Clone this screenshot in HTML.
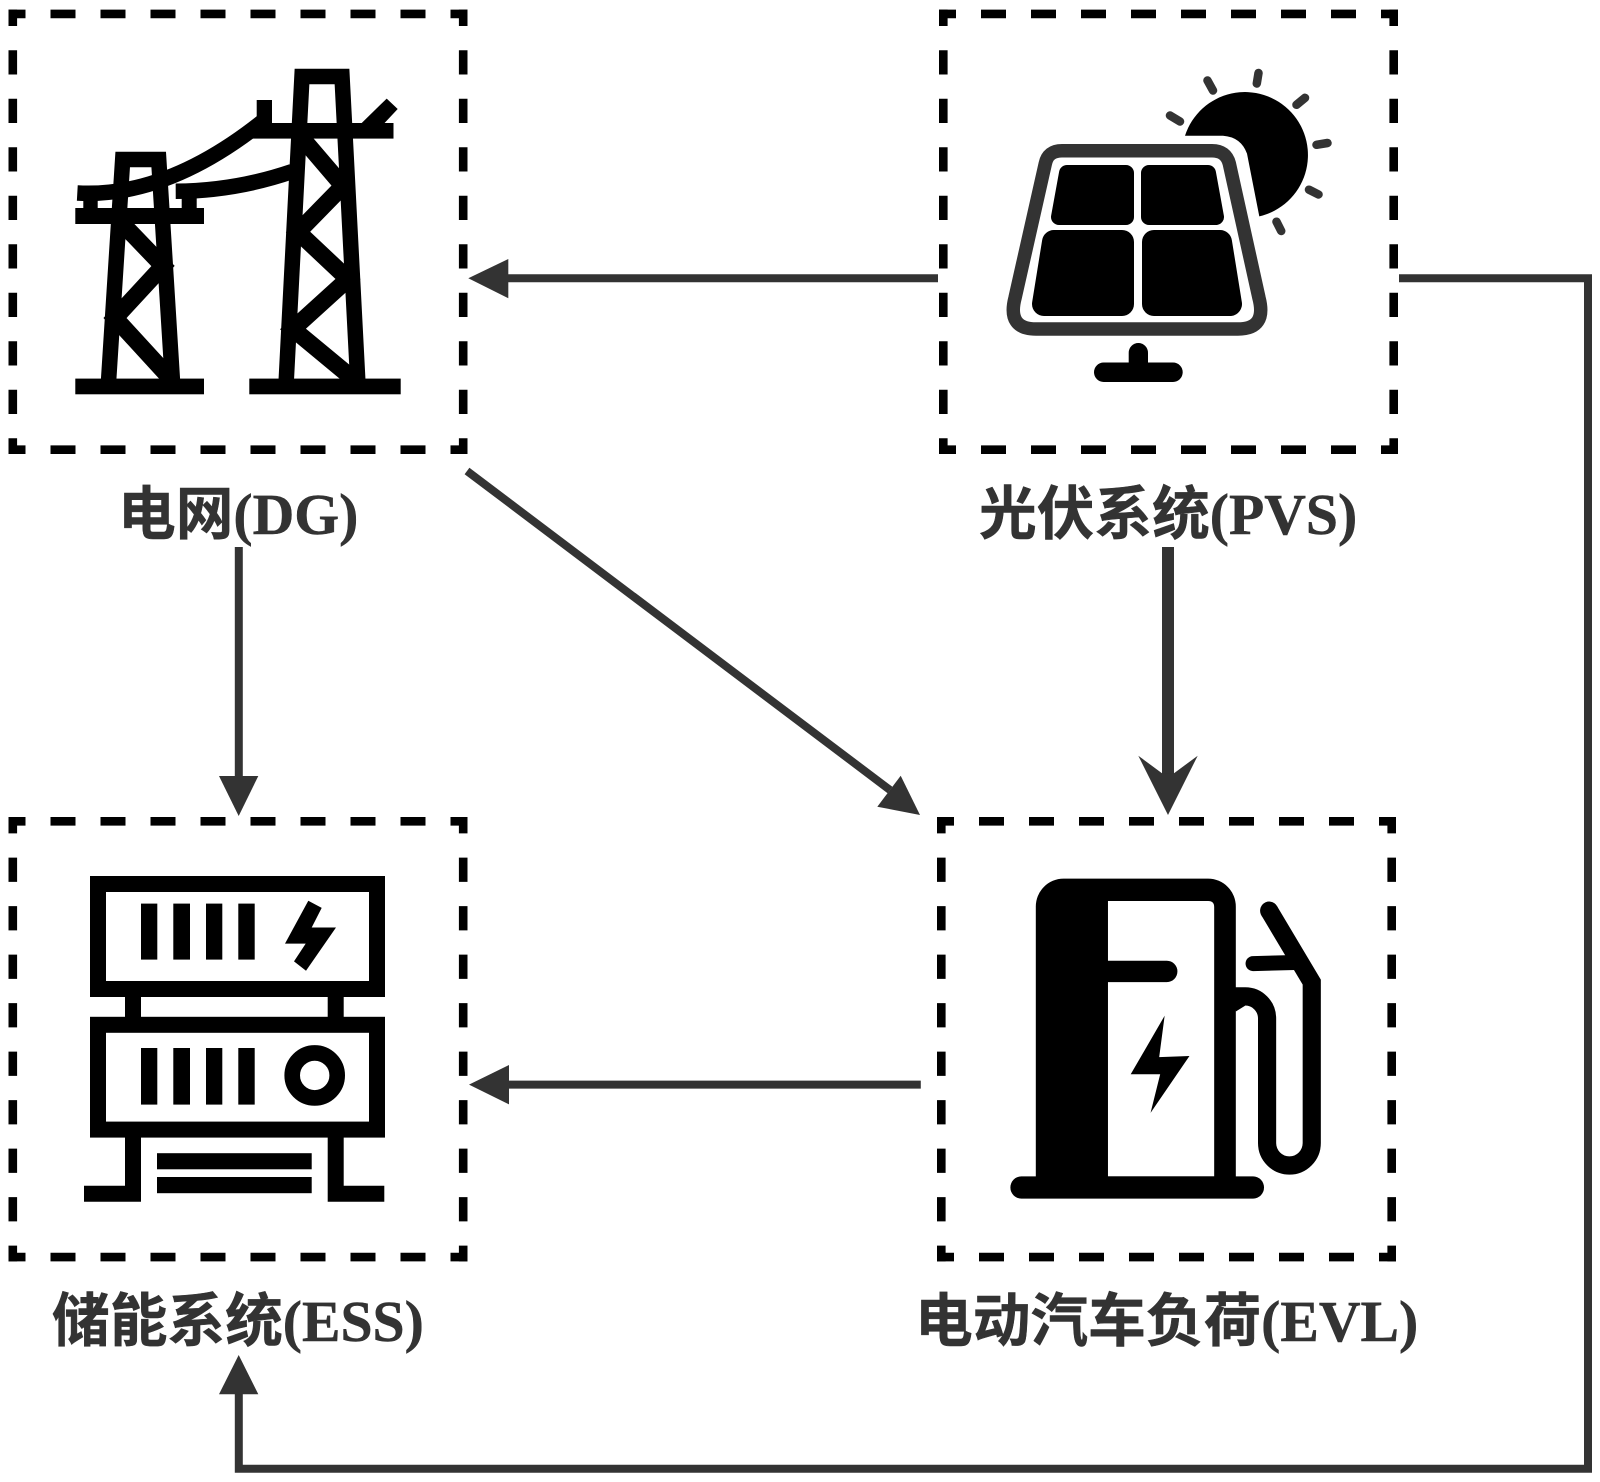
<!DOCTYPE html>
<html><head><meta charset="utf-8"><style>
html,body{margin:0;padding:0;background:#fff}
svg{display:block}
text{font-family:"Liberation Serif","Noto Sans CJK SC",serif;font-weight:700;font-size:57.7px;fill:#333;stroke:#333;stroke-width:.5px}
</style></head><body>
<svg width="1600" height="1482" viewBox="0 0 1600 1482" xmlns="http://www.w3.org/2000/svg">
<defs>
<g id="box" fill="none" stroke="#000" stroke-width="8.6">
<path d="M0,4.3H459" stroke-dasharray="25 25" stroke-dashoffset="8"/>
<path d="M0,440.1H459" stroke-dasharray="25 25" stroke-dashoffset="8"/>
<path d="M4.3,0V444.4" stroke-dasharray="24.25 24.25" stroke-dashoffset="7.85"/>
<path d="M454.7,0V444.4" stroke-dasharray="24.25 24.25" stroke-dashoffset="7.85"/>
</g>
</defs>
<rect width="1600" height="1482" fill="#fff"/>
<use href="#box" x="8.5" y="9.6"/>
<use href="#box" x="939" y="9.6"/>
<use href="#box" x="8.5" y="817"/>
<use href="#box" x="937" y="817"/>

<!-- tower icon -->
<g fill="#000">
<rect x="75.3" y="378.6" width="128.7" height="15.7"/>
<rect x="249.3" y="378.6" width="151.4" height="15.7"/>
<rect x="75.3" y="208" width="128.7" height="16"/>
<rect x="251" y="123" width="142.5" height="15.6"/>
<rect x="256.7" y="100" width="15.3" height="28"/>
<rect x="83.3" y="198" width="14.4" height="12"/>
<rect x="181.7" y="198" width="15" height="12"/>
<path d="M361.7,123L386.7,98.6 397.7,109 382.7,125Z"/>
</g>
<g fill="none" stroke="#000" stroke-width="15.5">
<path d="M77.3,193Q166,198 262,122"/>
<path d="M175.7,191.3Q235,191 292,171.6"/>
</g>
<g fill="none" stroke="#000" stroke-width="17">
<path d="M108.3,385L122.7,159.5H158.7L172.7,385" stroke-width="15.5"/>
<path d="M121.7,223L163,266 115,318 170,378"/>
<path d="M286,385L302,76.5H342L358,385" stroke-width="15.5"/>
<path d="M302,138L343,186 298,232 348,279 293,329 357,382"/>
</g>

<!-- solar icon -->
<path d="M1185,135.7H1223Q1241,137 1247,153.6L1259.3,216.4A63,63 0 1 0 1185,135.7Z" fill="#000"/>
<g stroke="#333" stroke-width="8.5" stroke-linecap="round" fill="none">
<path d="M1170,115.5L1180,121.5M1207.5,80.5L1213,90.5M1258.5,73L1256.8,83.5M1305,97.8L1296.5,104.8M1327.5,143L1316.5,144.8M1309,189.7L1318.5,194.5M1276.5,221.7L1281.2,231"/>
</g>
<path d="M1062,150.7H1212Q1226,150.7 1229.3,163.6L1259,298Q1267,329 1238,329H1036Q1007,329 1015,298L1045.3,163.6Q1048,150.7 1062,150.7Z" fill="#fff" stroke="#333" stroke-width="13.5"/>
<g fill="#000" stroke="#000" stroke-linejoin="round">
<polygon points="1067,173 1126,173 1126,217 1059,217" stroke-width="16"/>
<polygon points="1149,173 1208,173 1216,217 1149,217" stroke-width="16"/>
<polygon points="1054,242 1122,242 1122,304 1044,304" stroke-width="24"/>
<polygon points="1154,242 1220,242 1230,304 1154,304" stroke-width="24"/>
</g>
<rect x="1094" y="362.5" width="88.7" height="19.5" rx="9.7" fill="#000"/>
<path d="M1128.7,365V352.7A9.65,9.65 0 0 1 1148,352.7V365Z" fill="#000"/>

<!-- storage icon -->
<g fill="none" stroke="#000" stroke-width="16">
<rect x="98" y="884" width="279" height="105"/>
<rect x="98" y="1024.8" width="279" height="104.8"/>
</g>
<g fill="#000">
<rect x="125" y="995" width="16" height="24"/>
<rect x="327.7" y="995" width="16" height="24"/>
<rect x="141" y="903.6" width="16.3" height="56"/>
<rect x="173.3" y="903.6" width="16.7" height="56"/>
<rect x="206" y="903.6" width="16.3" height="56"/>
<rect x="238.3" y="903.6" width="16.4" height="56"/>
<rect x="141" y="1048" width="16.3" height="56.6"/>
<rect x="173.3" y="1048" width="16.7" height="56.6"/>
<rect x="206" y="1048" width="16.3" height="56.6"/>
<rect x="238.3" y="1048" width="16.4" height="56.6"/>
<polygon points="308.3,900.7 321.7,907.9 311.7,927.5 336,927.5 306,970.7 294,961.4 305.7,943.6 285,943.6"/>
<path d="M125,1136H141V1201.8H84V1185.7H125Z"/>
<path d="M327.7,1136H343.7V1185.7H384.3V1201.8H327.7Z"/>
<rect x="157" y="1153.2" width="154.7" height="16.1"/>
<rect x="157" y="1177" width="154.7" height="16.2"/>
</g>
<circle cx="314.7" cy="1075.4" r="22.5" fill="none" stroke="#000" stroke-width="15.6"/>

<!-- charger icon -->
<g transform="translate(1010,0) scale(0.9926,1) translate(-1010,0)">
<g fill="#000">
<rect x="1010.4" y="1176.4" width="255.5" height="22.2" rx="11"/>
<path fill-rule="evenodd" d="M1036,1180V907A28,28 0 0 1 1064,878.6H1209.5A28,28 0 0 1 1237.5,907V1180ZM1108.7,901V960.7H1168A10.7,10.7 0 0 1 1168,982.1H1108.7V1176.4H1215.7V907Q1215.7,901 1209.7,901Z"/>
<polygon points="1165.8,1015.7 1160.3,1057.1 1190.8,1056 1151.6,1112.9 1161.3,1074.3 1131.6,1074.3"/>
<circle cx="1271.1" cy="910.7" r="9.15"/>
<polygon points="1236,1003 1248,1005 1237.5,1011.5"/>
</g>
<g fill="none" stroke="#000" stroke-width="18.3">
<path d="M1236,996.4H1247A22,22 0 0 1 1269,1018.4V1143A22.5,22.5 0 0 0 1314,1143V982.1L1271.1,910.7"/>
<path d="M1254.8,963.6L1297,962.5" stroke-width="15" stroke-linecap="round"/>
</g>
</g>

<!-- connectors -->
<g fill="none" stroke="#333" stroke-width="8">
<path d="M938,278.3H500"/>
<path d="M1399,278.3H1588V1468.7H238.8V1385"/>
<path d="M238.8,547V785"/>
<path d="M467,471L890,790" />
<path d="M920.8,1084.6H500"/>
<path d="M1168,547V780" stroke-width="12"/>
</g>
<g fill="#333">
<polygon points="468.3,278.3 508.3,259 508.3,298.3"/>
<polygon points="469,1084.6 509,1065 509,1104.4"/>
<polygon points="238.7,1355 258.3,1394.3 219,1394.3"/>
<polygon points="238.7,816 258.3,776 219,776"/>
<polygon points="920,815 877.3,806.7 900.7,775.7"/>
<polygon points="1168,815 1197.7,755.7 1174,773.3 1162,773.3 1138.3,755.7"/>
</g>

<!-- labels -->
<text x="118" y="534">电网(DG)</text>
<text x="979" y="534">光伏系统(PVS)</text>
<text x="52" y="1341">储能系统(ESS)</text>
<text x="915" y="1341">电动汽车负荷(EVL)</text>
</svg>
</body></html>
